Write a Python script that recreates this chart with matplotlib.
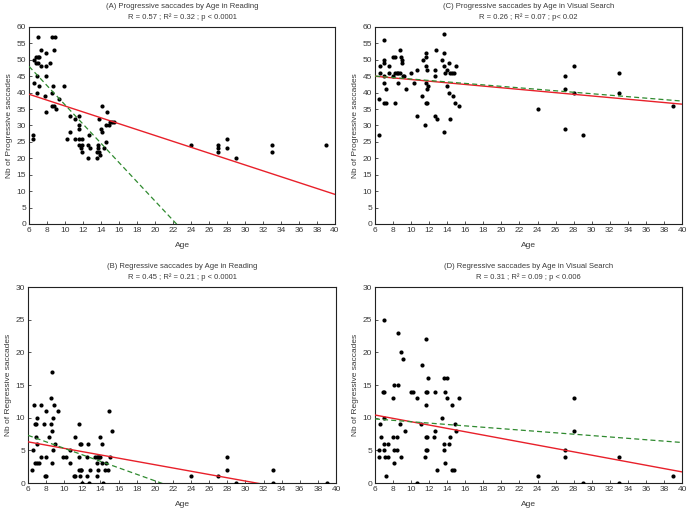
import numpy as np
import matplotlib.pyplot as plt

plt.rcParams['font.family'] = ['Liberation Sans', 'DejaVu Sans']

# (A) Progressive saccades by Age in Reading
age_a = [7.0, 8.5, 8.9, 7.3, 8.8, 7.9, 6.5, 6.8, 7.0, 7.1, 6.8, 7.0, 8.3, 7.3, 7.9,
         6.9, 7.9, 6.6, 7.1, 8.7, 9.9, 6.9, 8.6, 7.8, 9.3, 8.5, 8.8, 9.0, 7.9,
         6.4, 6.4, 10.6, 11.1, 11.5, 11.6, 11.6, 10.5, 10.2, 11.1, 11.6, 11.9,
         11.6, 11.9, 11.8, 11.9, 12.6, 12.7, 12.8, 12.6, 13.6, 13.8, 13.7, 13.7,
         13.6, 13.8, 13.9, 14.1, 14.0, 14.1, 14.5, 14.6, 14.3, 14.7, 14.9, 15.0,
         15.2, 15.4, 24, 27, 27, 27, 28, 28, 29, 33, 33, 39]
prog_a = [57, 57, 57, 53, 53, 52, 50, 51, 51, 51, 49, 49, 49, 48, 48,
          45, 45, 43, 42, 42, 42, 40, 40, 39, 38, 36, 36, 35, 34,
          27, 26, 33, 32, 33, 30, 29, 28, 26, 26, 26, 26,
          24, 24, 23, 22, 24, 27, 23, 20, 22, 22, 24, 23,
          20, 32, 21, 36, 29, 28, 30, 25, 23, 34, 30, 31,
          31, 31, 24, 24, 23, 22, 26, 23, 20, 24, 22, 24]

# (C) Progressive saccades by Age in Visual Search
age_c = [6.4, 6.4, 7.0, 6.6, 6.5, 7.0, 7.0, 7.0, 7.0, 7.2, 7.0, 7.2, 7.5, 7.5,
         8.0, 8.2, 8.0, 8.2, 8.4, 8.6, 8.8, 8.2, 8.5, 8.8, 8.9, 9.0, 9.0, 9.1,
         9.2, 9.4, 10.0, 10.3, 10.7, 10.7, 11.2, 11.3, 11.5, 11.6, 11.7, 11.6,
         11.7, 11.8, 11.7, 11.8, 11.8, 11.9, 12.6, 12.6, 12.8, 12.6, 12.9, 13.4,
         13.6, 13.6, 13.6, 13.8, 13.6, 14.0, 14.0, 14.2, 14.2, 14.3, 14.5, 14.7,
         14.3, 14.6, 14.9, 15.0, 15.3, 24, 27, 27, 27, 28, 28, 29, 33, 33, 39]
prog_c = [27, 38, 56, 46, 48, 50, 49, 45, 43, 41, 37, 37, 48, 46,
          51, 51, 45, 46, 46, 46, 46, 37, 43, 53, 51, 50, 49, 45,
          45, 41, 46, 43, 47, 33, 39, 50, 30, 51, 52, 43,
          48, 47, 37, 37, 41, 42, 45, 47, 53, 33, 32, 50,
          58, 52, 48, 46, 28, 47, 42, 49, 40, 46, 46, 46,
          32, 39, 37, 48, 36, 35, 45, 41, 29, 48, 40, 27, 46, 40, 36]

# (B) Regressive saccades by Age in Reading
age_b = [6.4, 6.5, 6.7, 6.8, 6.9, 7.0, 6.9, 7.0, 6.8, 7.0, 7.2, 7.4, 7.4, 7.8,
         8.0, 8.0, 7.9, 8.0, 8.3, 8.5, 8.5, 8.6, 8.7, 8.8, 8.6, 8.8, 8.9, 9.0,
         9.3, 9.9, 10.2, 10.6, 10.6, 11.1, 11.2, 11.2, 11.6, 11.6, 11.6, 11.8,
         11.9, 11.7, 11.7, 11.9, 12.5, 12.5, 12.6, 12.8, 13.4, 13.6, 13.7, 13.8,
         13.9, 13.6, 13.7, 13.6, 14.0, 14.2, 14.2, 14.6, 14.5, 14.8, 14.9, 15.0,
         15.3, 24, 27, 28, 28, 33, 12.0, 12.7, 14.3, 29, 33, 39]
reg_b = [2, 5, 12, 9, 9, 10, 7, 6, 3, 3, 3, 12, 4, 9,
         11, 4, 1, 1, 7, 13, 9, 17, 8, 5, 3, 10, 12, 6,
         11, 4, 4, 5, 3, 1, 1, 7, 9, 4, 2, 2,
         2, 1, 6, 6, 4, 1, 6, 2, 4, 4, 4, 4,
         4, 3, 2, 1, 7, 6, 3, 3, 2, 2, 11, 4,
         8, 1, 1, 4, 2, 2, 0, 0, 0, 0, 0, 0]

# (D) Regressive saccades by Age in Visual Search
age_d = [6.4, 6.4, 6.6, 6.7, 6.9, 7.0, 7.0, 7.0, 7.0, 7.0, 7.1, 7.2, 7.4, 7.4,
         8.0, 8.0, 8.1, 8.1, 8.1, 8.4, 8.4, 8.6, 8.6, 8.8, 8.9, 8.9, 9.1, 9.3,
         10.0, 10.2, 10.7, 11.1, 11.2, 11.5, 11.6, 11.8, 11.6, 11.8, 11.6, 11.8,
         11.7, 11.7, 11.9, 12.5, 12.6, 12.7, 12.9, 13.4, 13.6, 13.6, 13.6, 13.7,
         13.8, 14.0, 14.0, 14.2, 14.3, 14.5, 14.5, 14.8, 14.9, 15.0, 15.3,
         24, 27, 27, 28, 28, 33, 39, 10.7, 29, 33]
reg_d = [5, 4, 9, 7, 14, 14, 10, 25, 6, 5, 4, 1, 6, 4,
         13, 7, 15, 5, 3, 7, 5, 23, 15, 9, 4, 20, 19, 8,
         14, 14, 13, 9, 18, 4, 5, 5, 7, 7, 14, 14,
         22, 12, 16, 7, 8, 14, 2, 10, 5, 6, 16, 14,
         3, 16, 13, 6, 7, 12, 2, 2, 9, 8, 13,
         1, 5, 4, 13, 8, 4, 1, 0, 0, 0]

# fitted lines: (intercept, slope)
red_fit = {'A': (44.9, -0.897), 'C': (46.5, -0.25), 'B': (7.8, -0.25), 'D': (11.94, -0.256)}
green_fit = {'A': (65.6, -2.93), 'C': (46.4, -0.224), 'B': (10.28, -0.497), 'D': (10.44, -0.106)}

titles = {
    'A': ('(A) Progressive saccades by Age in Reading', 'R = 0.57 ; R\u00b2 = 0.32 ; p < 0.0001'),
    'C': ('(C) Progressive saccades by Age in Visual Search', 'R = 0.26 ; R\u00b2 = 0.07 ; p< 0.02'),
    'B': ('(B) Regressive saccades by Age in Reading', 'R = 0.45 ; R\u00b2 = 0.21 ; p < 0.0001'),
    'D': ('(D) Regressive saccades by Age in Visual Search', 'R = 0.31 ; R\u00b2 = 0.09 ; p < 0.006'),
}

panels = [
    ('A', age_a, prog_a, 'Nb of Progressive saccades', 60, [29, 335, 27, 224]),
    ('C', age_c, prog_c, 'Nb of Progressive saccades', 60, [375, 682, 27, 224]),
    ('B', age_b, reg_b, 'Nb of Regressive saccades', 30, [28, 336, 287, 483]),
    ('D', age_d, reg_d, 'Nb of Regressive saccades', 30, [375, 682, 287, 483]),
]

W, H = 689, 513
fig = plt.figure(figsize=(W / 100, H / 100), dpi=100)
txt = '#3a3a3a'

for key, x, y, ylab, ymax, (l, r, t, b) in panels:
    ax = fig.add_axes([l / W, 1 - b / H, (r - l) / W, (b - t) / H])
    ax.scatter(x, y, s=9, color='black', zorder=3, linewidths=0)
    xx = np.array([6, 40])
    a0, a1 = red_fit[key]
    ax.plot(xx, a0 + a1 * xx, color='#e8202a', lw=1.0, zorder=4)
    g0, g1 = green_fit[key]
    ax.plot(xx, g0 + g1 * xx, color='#2f8a2f', lw=0.9, ls=(0, (4, 2.5)), zorder=4)
    ax.set_xlim(6, 40)
    ax.set_ylim(0, ymax)
    ax.set_xticks(range(6, 41, 2))
    ax.set_yticks(range(0, ymax + 1, 5))
    ax.tick_params(direction='in', length=2, width=0.6, labelsize=6,
                   colors=txt, pad=2)
    for s in ax.spines.values():
        s.set_linewidth(0.8)
        s.set_color('#222222')
    ax.set_xlabel('Age', fontsize=6, color=txt, labelpad=6)
    ax.set_ylabel(ylab, fontsize=6, color=txt, labelpad=3)
    t1, t2 = titles[key]
    ax.text(0.5, 1.085, t1, transform=ax.transAxes, ha='center', va='bottom',
            fontsize=5.5, color=txt)
    ax.text(0.5, 1.03, t2, transform=ax.transAxes, ha='center', va='bottom',
            fontsize=5.5, color=txt)

fig.savefig('out.png', dpi=100)
